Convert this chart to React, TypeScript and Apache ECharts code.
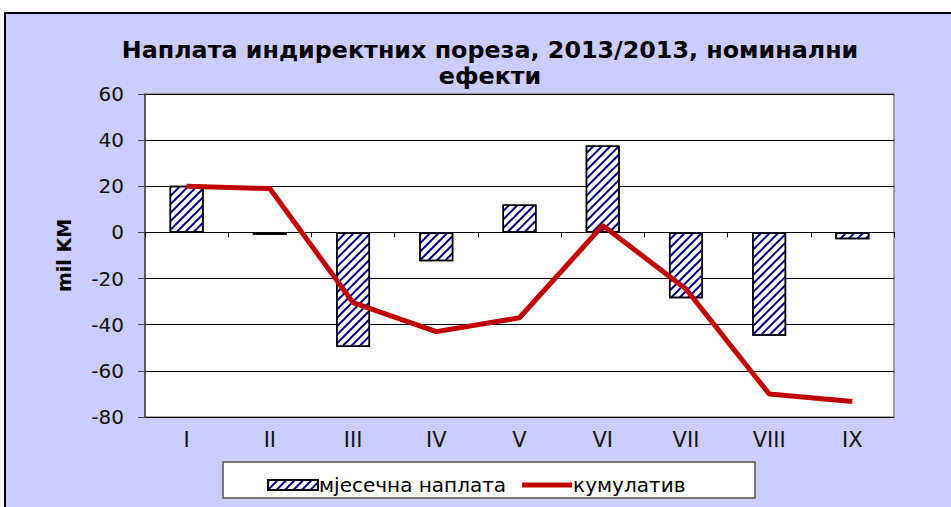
import React, { useEffect, useRef } from "react";
import * as echarts from "echarts";

const categories = ["I", "II", "III", "IV", "V", "VI", "VII", "VIII", "IX"];
const monthly = [20.2, -1.0, -49.7, -12.5, 12.1, 37.7, -28.5, -44.8, -3.0];
const cumulative = [20.0, 19.0, -30.4, -43.0, -37.0, 3.0, -24.5, -70.0, -73.3];
const yTicks = { min: -80, max: 60, interval: 20 };
const titleText = "Наплата индиректних пореза, 2013/2013, номинални\nефекти";
const seriesNames = ["мјесечна наплата", "кумулатив"];
const yAxisName = "mil KM";

const FONT = "DejaVu Sans";

export default function App() {
  const ref = useRef<HTMLDivElement>(null);
  useEffect(() => {
    if (!ref.current) return;
    const chart = echarts.init(ref.current, null, { renderer: "svg" });
    const decal = {
      symbol: "rect",
      symbolSize: 1,
      color: "#000080",
      dashArrayX: [1, 0],
      dashArrayY: [2, 4],
      rotation: -Math.PI / 4,
    };
    chart.setOption({
      animation: false,
      backgroundColor: "#ffffff",
      graphic: [
        {
          type: "rect",
          z: -10,
          silent: true,
          shape: { x: 5, y: 13, width: 960, height: 510 },
          style: { fill: "#CCCCFF", stroke: "#000", lineWidth: 2 },
        },
        {
          type: "rect",
          z: -5,
          silent: true,
          shape: { x: 223, y: 462, width: 532, height: 36 },
          style: { fill: "#ffffff", stroke: "#555", lineWidth: 1.5 },
        },
        {
          type: "text",
          x: 490,
          y: 37,
          style: {
            text: titleText,
            fontFamily: FONT,
            fontWeight: "bold",
            fontSize: 23.8,
            lineHeight: 26,
            textAlign: "center",
            fill: "#000",
          },
        },
      ],
      legend: {
        left: 262,
        top: 470,
        itemWidth: 50,
        itemHeight: 10,
        itemGap: 16,
        textStyle: { fontFamily: FONT, fontSize: 20, color: "#000", padding: [0, 0, 0, -4] },
        data: [
          { name: seriesNames[0], icon: "rect" },
          { name: seriesNames[1], icon: "path://M0,0 L50,0 L50,5 L0,5 Z" },
        ],
      },
      grid: { left: 145, right: 57, top: 94, bottom: 90, show: true, backgroundColor: "#fff", borderColor: "#888", borderWidth: 1.5 },
      xAxis: [
        {
          type: "category",
          data: categories,
          position: "bottom",
          axisLine: { onZero: true, lineStyle: { color: "#000", width: 1 } },
          axisTick: { show: true, length: 5, lineStyle: { color: "#000" } },
          axisLabel: { show: false },
        },
        {
          type: "category",
          data: categories,
          position: "bottom",
          axisLine: { show: false, onZero: false },
          axisTick: { show: false },
          axisLabel: { fontFamily: FONT, fontSize: 21, color: "#111", margin: 12 },
        },
      ],
      yAxis: {
        type: "value",
        min: yTicks.min,
        max: yTicks.max,
        interval: yTicks.interval,
        name: yAxisName,
        nameLocation: "middle",
        nameRotate: 90,
        nameGap: 72,
        nameTextStyle: { fontFamily: FONT, fontWeight: "bold", fontSize: 19, color: "#000" },
        axisLine: { show: true, lineStyle: { color: "#444", width: 1.5 } },
        axisTick: { show: true, length: 7, lineStyle: { color: "#444" } },
        axisLabel: { fontFamily: FONT, fontSize: 20, color: "#111", margin: 21 },
        splitLine: { show: true, lineStyle: { color: "#000", width: 1 } },
      },
      series: [
        {
          name: seriesNames[0],
          type: "bar",
          xAxisIndex: 0,
          data: monthly,
          barWidth: 34,
          itemStyle: { color: "#fff", borderColor: "#000", borderWidth: 1.5, decal },
        },
        {
          name: seriesNames[1],
          type: "line",
          xAxisIndex: 0,
          data: cumulative,
          symbol: "none",
          z: 5,
          lineStyle: { color: "#C00000", width: 5 },
          itemStyle: { color: "#C00000" },
        },
      ],
    });
    return () => chart.dispose();
  }, []);
  return <div ref={ref} style={{ position: "absolute", left: 0, top: 0, width: 951, height: 507 }} />;
}
